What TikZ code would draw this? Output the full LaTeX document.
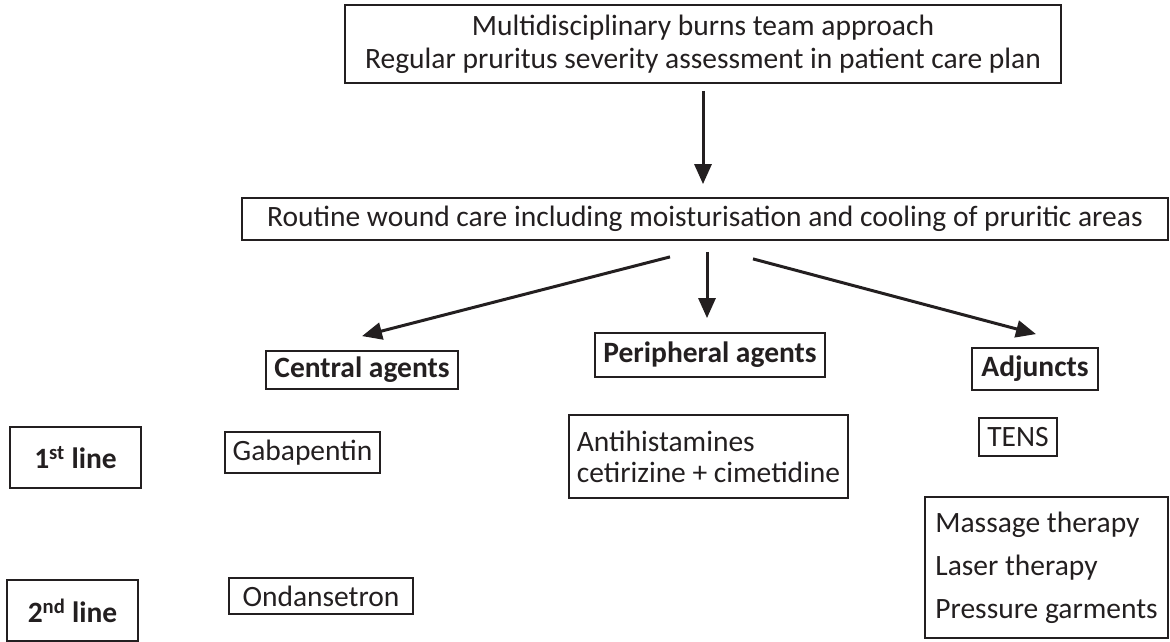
\documentclass[tikz,border=0pt]{standalone}
\usepackage{fontspec}
\setmainfont{Carlito}
\usetikzlibrary{arrows.meta}
\definecolor{ink}{HTML}{231F20}
\tikzset{
  box/.style={draw=ink, line width=1.8pt, inner sep=0pt, text=ink, font=\fontsize{29.5}{33}\selectfont},
  boldbox/.style={box, font=\fontsize{29.5}{33}\selectfont\bfseries},
  arr/.style={draw=ink, line width=3pt, -{Triangle[length=20pt,width=17pt]}}
}
\begin{document}
\begin{tikzpicture}[x=1pt,y=-1pt]
\useasboundingbox (0,0) rectangle (1170,642);
% boxes
\node[box, minimum width=716pt, minimum height=78pt, align=center] (top) at (703,44)
  {Multidisciplinary burns team approach\\Regular pruritus severity assessment in patient care plan};
\node[box, minimum width=926pt, minimum height=42pt] (routine) at (705,219)
  {Routine wound care including moisturisation and cooling of pruritic areas};
\node[boldbox, minimum width=192pt, minimum height=38pt] (central) at (362,370) {Central agents};
\node[boldbox, minimum width=230pt, minimum height=44pt] (periph) at (710,355) {Peripheral agents};
\node[boldbox, minimum width=126pt, minimum height=42pt] (adj) at (1035,369) {Adjuncts};
\node[boldbox, minimum width=131pt, minimum height=61pt] (first) at (75.5,457.5) {1\textsuperscript{st} line};
\node[boldbox, minimum width=131pt, minimum height=61pt] (second) at (72.5,610.5) {2\textsuperscript{nd} line};
\node[box, minimum width=155pt, minimum height=41pt] (gaba) at (302.5,452.5) {Gabapentin};
\node[box, minimum width=184pt, minimum height=36pt] (ondan) at (321,596) {Ondansetron};
\node[box, minimum width=279pt, minimum height=83pt, align=left,
  font=\fontsize{29.5}{31}\selectfont] (anti) at (708.5,456.5)
  {Antihistamines\\cetirizine + cimetidine};
\node[box, minimum width=78pt, minimum height=38pt] (tens) at (1018,437) {TENS};
\node[box, minimum width=243pt, minimum height=141pt, align=left,
  font=\fontsize{29.5}{43}\selectfont] (mass) at (1046.5,567.5)
  {Massage therapy\\Laser therapy\\Pressure garments};
% connectors
\draw[arr] ([yshift=-7pt]top.south) -- ([xshift=-2pt,yshift=13pt]routine.north);
\draw[arr] ([xshift=-35pt,yshift=-16pt]routine.south) -- ([yshift=14pt]central.north);
\draw[arr] ([xshift=2pt,yshift=-11pt]routine.south) -- ([xshift=-3pt,yshift=14pt]periph.north);
\draw[arr] ([xshift=48pt,yshift=-18pt]routine.south) -- ([xshift=1pt,yshift=13pt]adj.north);
\end{tikzpicture}
\end{document}
